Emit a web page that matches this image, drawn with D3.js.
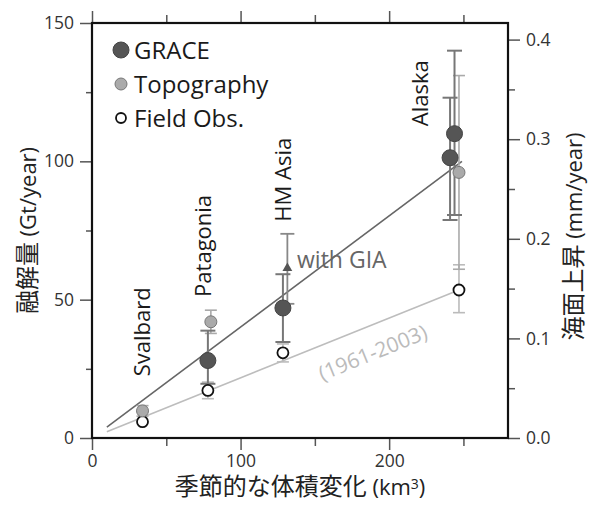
<!DOCTYPE html>
<html>
<head>
<meta charset="utf-8">
<script src="https://cdn.jsdelivr.net/npm/d3@7"></script>
<style>
  body { margin: 0; background: #fff; }
  svg text { font-family: "Open Sans", "Noto Sans CJK JP", sans-serif; }
</style>
</head>
<body>
<div id="chart"></div>
<script>
// values (x = km3, y = Gt/year)
const grace = [
  {region: "Patagonia", x: 78, y: 28, lo: 19.6, hi: 38.8},
  {region: "HM Asia", x: 128.5, y: 47, lo: 34.7, hi: 59.2},
  {region: "Alaska", x: 241, y: 101.3, lo: 78.8, hi: 123},
  {region: "Alaska", x: 244, y: 110, lo: 80.6, hi: 140}
];
const topography = [
  {region: "Svalbard", x: 34, y: 9.8, lo: 7.9, hi: 11.7},
  {region: "Patagonia", x: 80, y: 42, lo: 37.8, hi: 46.2},
  {region: "Alaska", x: 247, y: 96, lo: 61, hi: 131}
];
const fieldObs = [
  {region: "Svalbard", x: 34, y: 5.9, lo: 5.9, hi: 5.9},
  {region: "Patagonia", x: 78, y: 17.2, lo: 14.2, hi: 20.2},
  {region: "HM Asia", x: 128.5, y: 30.8, lo: 27.5, hi: 34},
  {region: "Alaska", x: 247, y: 53.5, lo: 45.3, hi: 62.6}
];
const withGIA = [{region: "HM Asia", x: 131.5, y: 61.4, lo: 48.5, hi: 73.8}];

const graceTrend = [[10, 3.9], [249, 100]];
const fieldTrend = [[10, 2.3], [247, 53.5]];

const regionLabels = ["Svalbard", "Patagonia", "HM Asia", "Alaska"];
const regionLabelX = [34, 75, 128.5, 221];
const regionLabelY = [22.3, 51, 78.2, 112.7];

const xTicks = [0, 100, 200];
const xMinor = [50, 150, 250];
const yTicks = [0, 50, 100, 150];
const yMinor = [25, 75, 125];
const yRTicks = [0, 0.1, 0.2, 0.3, 0.4];
const yRMinor = [0.05, 0.15, 0.25, 0.35];

const legendItems = ["GRACE", "Topography", "Field Obs."];

const width = 592, height = 505;
const margin = {top: 23, right: 84, bottom: 67, left: 92};

const svg = d3.select("#chart").append("svg")
  .attr("width", width).attr("height", height);

const x = d3.scaleLinear().domain([0, 280]).range([margin.left, width - margin.right]);
const y = d3.scaleLinear().domain([0, 150]).range([height - margin.bottom, margin.top]);
// 360 Gt of ice = 1 mm of sea level
const yR = d3.scaleLinear().domain([0, 150 / 360]).range([height - margin.bottom, margin.top]);

const tickColor = "#555";
function styleAxis(g) {
  g.select(".domain").remove();
  g.selectAll(".tick line").attr("stroke", tickColor).attr("stroke-width", 1.5);
  g.selectAll(".tick text").attr("fill", "#333").style("font-size", "17.5px");
}

const x0 = height - margin.bottom;
// bottom
svg.append("g").attr("transform", `translate(0,${x0})`)
  .call(d3.axisBottom(x).tickValues(xTicks).tickSize(12).tickPadding(5).tickFormat(d3.format("d")))
  .call(styleAxis);
svg.append("g").attr("transform", `translate(0,${x0})`)
  .call(d3.axisBottom(x).tickValues(xMinor).tickSize(8).tickFormat(""))
  .call(styleAxis);
// top
svg.append("g").attr("transform", `translate(0,${margin.top})`)
  .call(d3.axisTop(x).tickValues(xTicks).tickSize(12).tickFormat(""))
  .call(styleAxis);
svg.append("g").attr("transform", `translate(0,${margin.top})`)
  .call(d3.axisTop(x).tickValues(xMinor).tickSize(8).tickFormat(""))
  .call(styleAxis);
// left
svg.append("g").attr("transform", `translate(${margin.left},0)`)
  .call(d3.axisLeft(y).tickValues(yTicks).tickSize(12).tickPadding(6))
  .call(styleAxis);
svg.append("g").attr("transform", `translate(${margin.left},0)`)
  .call(d3.axisLeft(y).tickValues(yMinor).tickSize(6).tickFormat(""))
  .call(styleAxis);
// right
svg.append("g").attr("transform", `translate(${width - margin.right},0)`)
  .call(d3.axisRight(yR).tickValues(yRTicks).tickSize(12).tickPadding(6).tickFormat(d3.format(".1f")))
  .call(styleAxis);
svg.append("g").attr("transform", `translate(${width - margin.right},0)`)
  .call(d3.axisRight(yR).tickValues(yRMinor).tickSize(7).tickFormat(""))
  .call(styleAxis);

// frame
svg.append("rect")
  .attr("x", margin.left).attr("y", margin.top)
  .attr("width", width - margin.left - margin.right)
  .attr("height", height - margin.top - margin.bottom)
  .attr("fill", "none").attr("stroke", "#111").attr("stroke-width", 2.2);

// trend lines
const line = d3.line().x(d => x(d[0])).y(d => y(d[1]));
svg.append("path").datum(fieldTrend).attr("d", line)
  .attr("fill", "none").attr("stroke", "#bdbdbd").attr("stroke-width", 1.6);
svg.append("path").datum(graceTrend).attr("d", line)
  .attr("fill", "none").attr("stroke", "#666").attr("stroke-width", 1.6);

// error bars
function errorBars(data, color, sw, cap) {
  const g = svg.append("g").attr("stroke", color).attr("stroke-width", sw).attr("fill", "none");
  const e = data.filter(d => d.hi > d.lo);
  g.selectAll(".v").data(e).join("line")
    .attr("x1", d => x(d.x)).attr("x2", d => x(d.x))
    .attr("y1", d => y(d.lo)).attr("y2", d => y(d.hi));
  g.selectAll(".t").data(e).join("line")
    .attr("x1", d => x(d.x) - cap).attr("x2", d => x(d.x) + cap)
    .attr("y1", d => y(d.hi)).attr("y2", d => y(d.hi));
  g.selectAll(".b").data(e).join("line")
    .attr("x1", d => x(d.x) - cap).attr("x2", d => x(d.x) + cap)
    .attr("y1", d => y(d.lo)).attr("y2", d => y(d.lo));
}
errorBars(fieldObs, "#bbb", 1.6, 6);
errorBars(topography, "#aaa", 1.6, 6);
errorBars(withGIA, "#888", 1.8, 7);
errorBars(grace, "#777", 2, 7.5);

// points
svg.append("g").selectAll("circle").data(fieldObs).join("circle")
  .attr("cx", d => x(d.x)).attr("cy", d => y(d.y)).attr("r", 5.5)
  .attr("fill", "#fff").attr("stroke", "#111").attr("stroke-width", 1.8);
svg.append("g").selectAll("circle").data(topography).join("circle")
  .attr("cx", d => x(d.x)).attr("cy", d => y(d.y)).attr("r", 6)
  .attr("fill", "#aaa").attr("stroke", "#777").attr("stroke-width", 1);
svg.append("g").selectAll("circle").data(grace).join("circle")
  .attr("cx", d => x(d.x)).attr("cy", d => y(d.y)).attr("r", 8)
  .attr("fill", "#555").attr("stroke", "#444").attr("stroke-width", 1);
svg.append("g").selectAll("path").data(withGIA).join("path")
  .attr("d", d3.symbol(d3.symbolTriangle, 42))
  .attr("transform", d => `translate(${x(d.x)},${y(d.y)})`)
  .attr("fill", "#555");

// region labels
svg.append("g").selectAll("text").data(regionLabels).join("text")
  .attr("transform", (d, i) => `translate(${x(regionLabelX[i])},${y(regionLabelY[i])}) rotate(-90)`)
  .attr("dy", "0.36em")
  .style("font-size", "22px").attr("fill", "#1a1a1a")
  .text(d => d);

svg.append("text")
  .attr("x", x(138)).attr("y", y(61.5))
  .style("font-size", "23px").attr("fill", "#666")
  .text("with GIA");

svg.append("text")
  .attr("transform", `translate(${x(189)},${y(30.8)}) rotate(-22)`)
  .attr("text-anchor", "middle").attr("dy", "0.35em")
  .style("font-size", "21px").attr("fill", "#bbb")
  .text("(1961-2003)");

// legend
const legend = svg.append("g");
const legendStyle = [
  {r: 8, fill: "#555", stroke: "#444", sw: 1},
  {r: 6, fill: "#aaa", stroke: "#777", sw: 1},
  {r: 5, fill: "#fff", stroke: "#111", sw: 1.8}
];
legendItems.forEach((name, i) => {
  const cy = 50 + i * 34;
  const s = legendStyle[i];
  legend.append("circle").attr("cx", 121).attr("cy", cy).attr("r", s.r)
    .attr("fill", s.fill).attr("stroke", s.stroke).attr("stroke-width", s.sw);
  legend.append("text").attr("x", 134).attr("y", cy).attr("dy", "0.36em")
    .style("font-size", "24px").attr("fill", "#1a1a1a").text(name);
});

// axis titles
const cx = (margin.left + width - margin.right) / 2;
const cy = (margin.top + height - margin.bottom) / 2;

const xt = svg.append("text").attr("x", cx).attr("y", 495)
  .attr("text-anchor", "middle").attr("fill", "#222").style("font-size", "22px");
xt.append("tspan").style("font-size", "24px").text("季節的な体積変化");
xt.append("tspan").text(" (km");
xt.append("tspan").attr("dy", "-0.45em").style("font-size", "14px").text("3");
xt.append("tspan").attr("dy", "0.3em").text(")");

const lt = svg.append("text").attr("transform", `translate(36,${cy}) rotate(-90)`)
  .attr("text-anchor", "middle").attr("fill", "#222").style("font-size", "22px");
lt.append("tspan").style("font-size", "24px").text("融解量");
lt.append("tspan").text(" (Gt/year)");

const rt = svg.append("text").attr("transform", `translate(582,${cy + 6}) rotate(-90)`)
  .attr("text-anchor", "middle").attr("fill", "#222").style("font-size", "22px");
rt.append("tspan").style("font-size", "24px").text("海面上昇");
rt.append("tspan").text(" (mm/year)");
</script>
</body>
</html>
